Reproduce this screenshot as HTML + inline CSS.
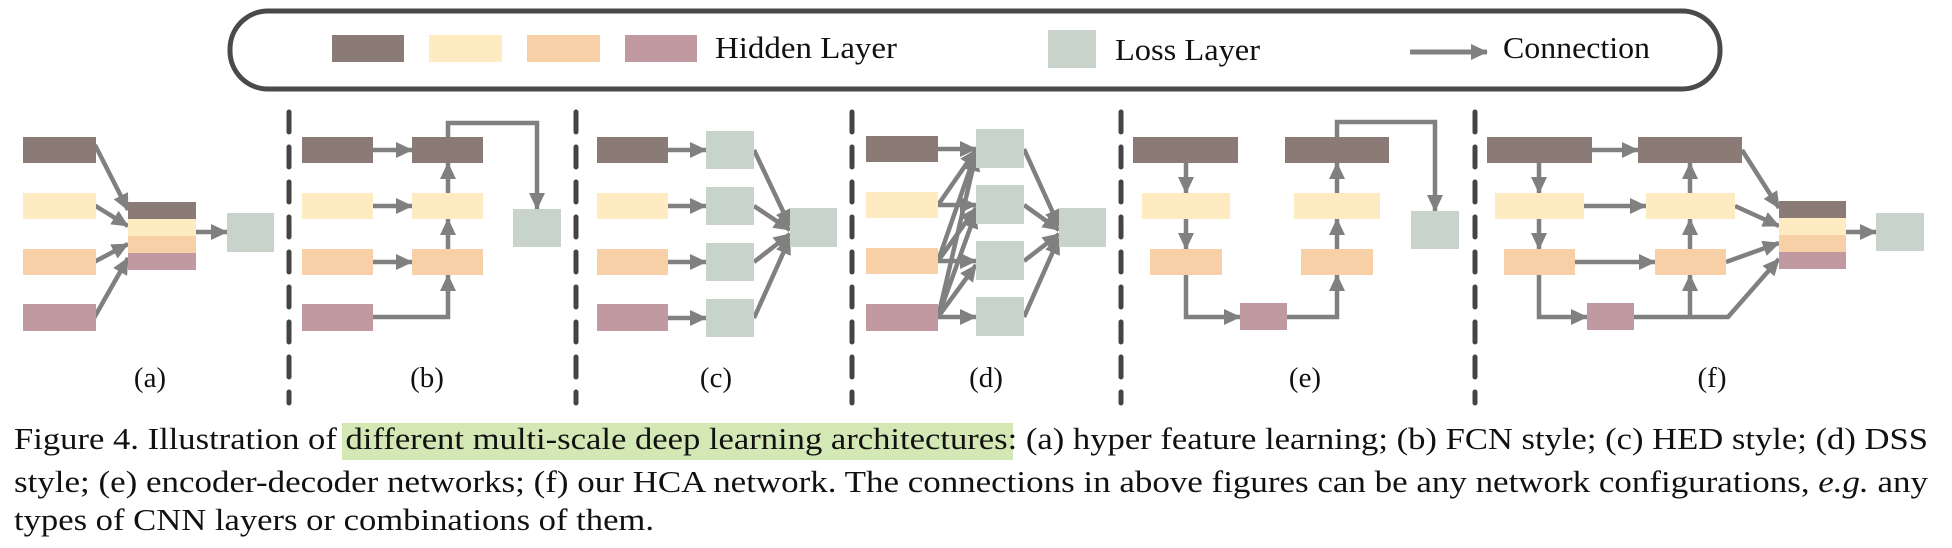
<!DOCTYPE html>
<html><head><meta charset="utf-8"><style>
html,body{margin:0;padding:0;background:#fff;}
svg{display:block;}
text{font-family:"Liberation Serif",serif;fill:#111;}
</style></head><body>
<svg width="1952" height="548" viewBox="0 0 1952 548" xmlns="http://www.w3.org/2000/svg">
<defs>
<marker id="ah" markerUnits="userSpaceOnUse" markerWidth="18" markerHeight="16" refX="16" refY="8" orient="auto">
<path d="M0,0 L17,8 L0,16 Z" fill="#808080"/>
</marker>
</defs>
<!-- legend -->
<rect x="230" y="11" width="1490" height="78" rx="38" fill="#fff" stroke="#4a4a4a" stroke-width="5"/>
<rect x="332" y="35" width="72" height="27" fill="#8a7b76"/>
<rect x="429" y="35" width="73" height="27" fill="#feebc2"/>
<rect x="527" y="35" width="73" height="27" fill="#f8d0a8"/>
<rect x="625" y="35" width="72" height="27" fill="#c09aa0"/>
<text x="715" y="58" font-size="31" textLength="182" lengthAdjust="spacingAndGlyphs">Hidden Layer</text>
<rect x="1048" y="30" width="48" height="38" fill="#c8d3cb"/>
<text x="1115" y="60" font-size="31" textLength="145" lengthAdjust="spacingAndGlyphs">Loss Layer</text>
<line x1="1410" y1="52" x2="1487" y2="52" stroke="#808080" stroke-width="5" marker-end="url(#ah)"/>
<text x="1503" y="58" font-size="31" textLength="147" lengthAdjust="spacingAndGlyphs">Connection</text>

<!-- dashed separators -->
<g stroke="#444" stroke-width="5" stroke-dasharray="20,15" stroke-linecap="round">
<line x1="289" y1="112" x2="289" y2="403"/>
<line x1="576" y1="112" x2="576" y2="403"/>
<line x1="852" y1="112" x2="852" y2="403"/>
<line x1="1121" y1="112" x2="1121" y2="403"/>
<line x1="1475" y1="112" x2="1475" y2="403"/>
</g>

<g stroke="#808080" stroke-width="4.5" fill="none" stroke-linejoin="miter">
<!-- (a) -->
<line x1="95" y1="145" x2="128" y2="210" marker-end="url(#ah)"/>
<line x1="94" y1="205" x2="128" y2="226" marker-end="url(#ah)"/>
<line x1="94" y1="262" x2="128" y2="244" marker-end="url(#ah)"/>
<line x1="94" y1="318" x2="128" y2="258" marker-end="url(#ah)"/>
<line x1="196" y1="232" x2="227" y2="232" marker-end="url(#ah)"/>
<!-- (b) -->
<line x1="373" y1="150" x2="412" y2="150" marker-end="url(#ah)"/>
<line x1="373" y1="206" x2="412" y2="206" marker-end="url(#ah)"/>
<line x1="373" y1="262" x2="412" y2="262" marker-end="url(#ah)"/>
<line x1="448" y1="193" x2="448" y2="163" marker-end="url(#ah)"/>
<line x1="448" y1="249" x2="448" y2="219" marker-end="url(#ah)"/>
<polyline points="373,317 448,317 448,275" marker-end="url(#ah)"/>
<polyline points="448,137 448,123 537,123 537,209" marker-end="url(#ah)"/>
<!-- (c) -->
<line x1="668" y1="150" x2="706" y2="150" marker-end="url(#ah)"/>
<line x1="668" y1="206" x2="706" y2="206" marker-end="url(#ah)"/>
<line x1="668" y1="262" x2="706" y2="262" marker-end="url(#ah)"/>
<line x1="668" y1="318" x2="706" y2="318" marker-end="url(#ah)"/>
<line x1="754" y1="150" x2="790" y2="226" marker-end="url(#ah)"/>
<line x1="754" y1="206" x2="790" y2="230" marker-end="url(#ah)"/>
<line x1="754" y1="262" x2="790" y2="234" marker-end="url(#ah)"/>
<line x1="754" y1="318" x2="790" y2="238" marker-end="url(#ah)"/>
<!-- (d) -->
<line x1="938" y1="149" x2="976" y2="149" marker-end="url(#ah)"/>
<line x1="938" y1="205" x2="976" y2="150" marker-end="url(#ah)"/>
<line x1="938" y1="205" x2="976" y2="205" marker-end="url(#ah)"/>
<line x1="938" y1="261" x2="976" y2="152" marker-end="url(#ah)"/>
<line x1="938" y1="261" x2="976" y2="208" marker-end="url(#ah)"/>
<line x1="938" y1="261" x2="976" y2="261" marker-end="url(#ah)"/>
<line x1="938" y1="317" x2="976" y2="155" marker-end="url(#ah)"/>
<line x1="938" y1="317" x2="976" y2="212" marker-end="url(#ah)"/>
<line x1="938" y1="317" x2="976" y2="265" marker-end="url(#ah)"/>
<line x1="938" y1="317" x2="976" y2="317" marker-end="url(#ah)"/>
<line x1="1024" y1="149" x2="1059" y2="226" marker-end="url(#ah)"/>
<line x1="1024" y1="205" x2="1059" y2="230" marker-end="url(#ah)"/>
<line x1="1024" y1="261" x2="1059" y2="234" marker-end="url(#ah)"/>
<line x1="1024" y1="317" x2="1059" y2="238" marker-end="url(#ah)"/>
<!-- (e) -->
<line x1="1186" y1="163" x2="1186" y2="193" marker-end="url(#ah)"/>
<line x1="1186" y1="219" x2="1186" y2="249" marker-end="url(#ah)"/>
<polyline points="1186,275 1186,317 1240,317" marker-end="url(#ah)"/>
<polyline points="1287,317 1337,317 1337,275" marker-end="url(#ah)"/>
<line x1="1337" y1="249" x2="1337" y2="219" marker-end="url(#ah)"/>
<line x1="1337" y1="193" x2="1337" y2="163" marker-end="url(#ah)"/>
<polyline points="1337,137 1337,122 1435,122 1435,211" marker-end="url(#ah)"/>
<!-- (f) -->
<line x1="1592" y1="150" x2="1638" y2="150" marker-end="url(#ah)"/>
<line x1="1584" y1="206" x2="1646" y2="206" marker-end="url(#ah)"/>
<line x1="1575" y1="262" x2="1655" y2="262" marker-end="url(#ah)"/>
<line x1="1539" y1="163" x2="1539" y2="193" marker-end="url(#ah)"/>
<line x1="1539" y1="219" x2="1539" y2="249" marker-end="url(#ah)"/>
<polyline points="1539,275 1539,317 1587,317" marker-end="url(#ah)"/>
<line x1="1690" y1="193" x2="1690" y2="163" marker-end="url(#ah)"/>
<line x1="1690" y1="249" x2="1690" y2="219" marker-end="url(#ah)"/>
<line x1="1690" y1="317" x2="1690" y2="275" marker-end="url(#ah)"/>
<polyline points="1634,317 1728,317 1779,259" marker-end="url(#ah)"/>
<line x1="1742" y1="150" x2="1779" y2="208" marker-end="url(#ah)"/>
<line x1="1735" y1="206" x2="1779" y2="226" marker-end="url(#ah)"/>
<line x1="1726" y1="262" x2="1779" y2="243" marker-end="url(#ah)"/>
<line x1="1846" y1="232" x2="1876" y2="232" marker-end="url(#ah)"/>
</g>

<!-- boxes (a) -->
<rect x="23" y="137" width="73" height="26" fill="#8a7b76"/>
<rect x="23" y="193" width="73" height="26" fill="#feebc2"/>
<rect x="23" y="249" width="73" height="26" fill="#f8d0a8"/>
<rect x="23" y="304" width="73" height="27" fill="#c09aa0"/>
<rect x="128" y="202" width="68" height="17" fill="#8a7b76"/>
<rect x="128" y="219" width="68" height="17" fill="#feebc2"/>
<rect x="128" y="236" width="68" height="17" fill="#f8d0a8"/>
<rect x="128" y="253" width="68" height="17" fill="#c09aa0"/>
<rect x="227" y="213" width="47" height="39" fill="#c8d3cb"/>
<!-- (b) -->
<rect x="302" y="137" width="71" height="26" fill="#8a7b76"/>
<rect x="302" y="193" width="71" height="26" fill="#feebc2"/>
<rect x="302" y="249" width="71" height="26" fill="#f8d0a8"/>
<rect x="302" y="304" width="71" height="27" fill="#c09aa0"/>
<rect x="412" y="137" width="71" height="26" fill="#8a7b76"/>
<rect x="412" y="193" width="71" height="26" fill="#feebc2"/>
<rect x="412" y="249" width="71" height="26" fill="#f8d0a8"/>
<rect x="513" y="209" width="48" height="38" fill="#c8d3cb"/>
<!-- (c) -->
<rect x="597" y="137" width="71" height="26" fill="#8a7b76"/>
<rect x="597" y="193" width="71" height="26" fill="#feebc2"/>
<rect x="597" y="249" width="71" height="26" fill="#f8d0a8"/>
<rect x="597" y="304" width="71" height="27" fill="#c09aa0"/>
<rect x="706" y="131" width="48" height="38" fill="#c8d3cb"/>
<rect x="706" y="187" width="48" height="38" fill="#c8d3cb"/>
<rect x="706" y="243" width="48" height="38" fill="#c8d3cb"/>
<rect x="706" y="299" width="48" height="38" fill="#c8d3cb"/>
<rect x="790" y="208" width="47" height="39" fill="#c8d3cb"/>
<!-- (d) -->
<rect x="866" y="136" width="72" height="26" fill="#8a7b76"/>
<rect x="866" y="192" width="72" height="26" fill="#feebc2"/>
<rect x="866" y="248" width="72" height="26" fill="#f8d0a8"/>
<rect x="866" y="304" width="72" height="27" fill="#c09aa0"/>
<rect x="976" y="129" width="48" height="39" fill="#c8d3cb"/>
<rect x="976" y="185" width="48" height="39" fill="#c8d3cb"/>
<rect x="976" y="241" width="48" height="39" fill="#c8d3cb"/>
<rect x="976" y="297" width="48" height="39" fill="#c8d3cb"/>
<rect x="1059" y="208" width="47" height="39" fill="#c8d3cb"/>
<!-- (e) -->
<rect x="1133" y="137" width="105" height="26" fill="#8a7b76"/>
<rect x="1142" y="193" width="88" height="26" fill="#feebc2"/>
<rect x="1150" y="249" width="72" height="26" fill="#f8d0a8"/>
<rect x="1240" y="303" width="47" height="27" fill="#c09aa0"/>
<rect x="1285" y="137" width="104" height="26" fill="#8a7b76"/>
<rect x="1294" y="193" width="86" height="26" fill="#feebc2"/>
<rect x="1301" y="249" width="72" height="26" fill="#f8d0a8"/>
<rect x="1411" y="211" width="48" height="38" fill="#c8d3cb"/>
<!-- (f) -->
<rect x="1487" y="137" width="105" height="26" fill="#8a7b76"/>
<rect x="1495" y="193" width="89" height="26" fill="#feebc2"/>
<rect x="1504" y="249" width="71" height="26" fill="#f8d0a8"/>
<rect x="1587" y="303" width="47" height="27" fill="#c09aa0"/>
<rect x="1638" y="137" width="104" height="26" fill="#8a7b76"/>
<rect x="1646" y="193" width="89" height="26" fill="#feebc2"/>
<rect x="1655" y="249" width="71" height="26" fill="#f8d0a8"/>
<rect x="1779" y="201" width="67" height="17" fill="#8a7b76"/>
<rect x="1779" y="218" width="67" height="17" fill="#feebc2"/>
<rect x="1779" y="235" width="67" height="17" fill="#f8d0a8"/>
<rect x="1779" y="252" width="67" height="17" fill="#c09aa0"/>
<rect x="1876" y="213" width="48" height="38" fill="#c8d3cb"/>

<!-- panel labels -->
<g font-size="29" text-anchor="middle">
<text x="150" y="387">(a)</text>
<text x="427" y="387">(b)</text>
<text x="716" y="387">(c)</text>
<text x="986" y="387">(d)</text>
<text x="1305" y="387">(e)</text>
<text x="1712" y="387">(f)</text>
</g>

<!-- caption -->
<rect x="342" y="423" width="671" height="37" fill="#d3e8b5"/>
<text x="14" y="449" font-size="31" textLength="1914" lengthAdjust="spacingAndGlyphs">Figure 4. Illustration of different multi-scale deep learning architectures: (a) hyper feature learning; (b) FCN style; (c) HED style; (d) DSS</text>
<text x="14" y="492" font-size="31" textLength="1914" lengthAdjust="spacingAndGlyphs">style; (e) encoder-decoder networks; (f) our HCA network. The connections in above figures can be any network configurations, <tspan font-style="italic">e.g.</tspan> any</text>
<text x="14" y="530" font-size="31" textLength="640" lengthAdjust="spacingAndGlyphs">types of CNN layers or combinations of them.</text>
</svg>
</body></html>
